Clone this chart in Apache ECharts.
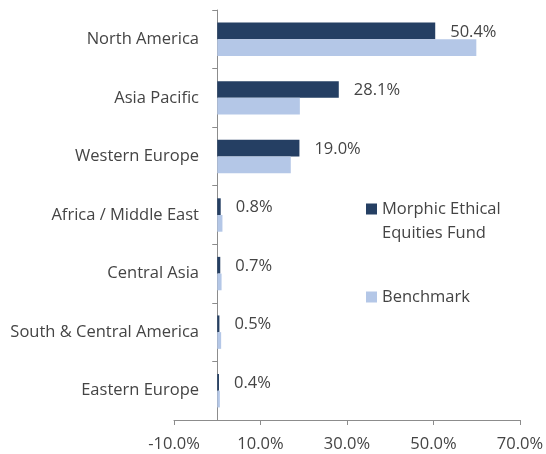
<!DOCTYPE html>
<html>
<head>
<meta charset="utf-8">
<script src="https://cdn.jsdelivr.net/npm/echarts@6/dist/echarts.min.js"></script>
<style>html,body{margin:0;padding:0;background:#fff}#c{width:546px;height:454px}</style>
</head>
<body>
<div id="c"></div>
<script>
var categories = ['North America', 'Asia Pacific', 'Western Europe', 'Africa / Middle East', 'Central Asia', 'South & Central America', 'Eastern Europe'];
var fundValues = [50.4, 28.1, 19.0, 0.8, 0.7, 0.5, 0.4];
var benchmarkValues = [59.9, 19.1, 17.0, 1.2, 1.0, 0.9, 0.6];
var fundName = 'Morphic Ethical Equities Fund';
var benchName = 'Benchmark';

var FONT = '"Open Sans", sans-serif';
var TXT = '#444444';
var FS = 16.5;
var chart = echarts.init(document.getElementById('c'), null, {renderer: 'canvas'});
chart.setOption({
  animation: false,
  textStyle: {fontFamily: FONT},
  grid: {left: 174, right: 26, top: 10, bottom: 34, containLabel: false, outerBoundsMode: 'none'},
  legend: [
    {
      data: [fundName],
      formatter: function () { return '\nMorphic Ethical\nEquities Fund'; },
      left: 366, top: 173, padding: 0, orient: 'vertical',
      itemWidth: 11, itemHeight: 11, icon: 'rect',
      textStyle: {fontFamily: FONT, fontSize: FS, color: TXT, lineHeight: 24}
    },
    {
      data: [benchName],
      left: 366, top: 285, padding: 0, orient: 'vertical',
      itemWidth: 11, itemHeight: 11, icon: 'rect',
      textStyle: {fontFamily: FONT, fontSize: FS, color: TXT, lineHeight: 24}
    }
  ],
  xAxis: {
    type: 'value', min: -10, max: 70, interval: 20,
    splitLine: {show: false},
    axisLine: {show: true, lineStyle: {color: '#8c8c8c', width: 1}},
    axisTick: {show: true, length: 5, lineStyle: {color: '#8c8c8c'}},
    axisLabel: {color: TXT, fontSize: FS, fontFamily: FONT, margin: 16,
      formatter: function (v) { return v.toFixed(1) + '%'; }}
  },
  yAxis: {
    type: 'category', data: categories, inverse: true,
    axisLine: {show: true, onZero: true, lineStyle: {color: '#8c8c8c', width: 1}},
    axisTick: {show: true, length: 5, lineStyle: {color: '#8c8c8c'}},
    axisLabel: {color: TXT, fontSize: FS, fontFamily: FONT, margin: -25}
  },
  series: [
    {
      name: fundName, type: 'bar', data: fundValues,
      barWidth: 16.7, barGap: '0%',
      itemStyle: {color: '#253F63'},
      label: {show: true, position: 'right', distance: 15, offset: [0, 1], color: TXT, fontSize: FS, fontFamily: FONT,
        formatter: function (p) { return p.value.toFixed(1) + '%'; }}
    },
    {
      name: benchName, type: 'bar', data: benchmarkValues,
      barWidth: 16.7, barGap: '0%',
      itemStyle: {color: '#B4C7E7'}
    }
  ]
});
</script>
</body>
</html>
